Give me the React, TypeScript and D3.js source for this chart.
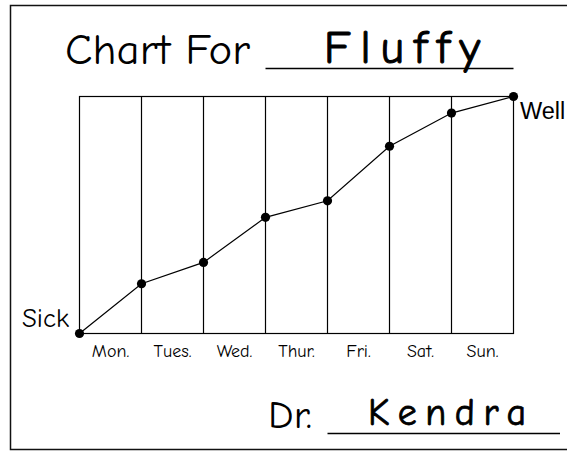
import React from "react";
import * as d3 from "d3";

// chart values
const days = ["Mon.", "Tues.", "Wed.", "Thur.", "Fri.", "Sat.", "Sun."];
// wellness at each day boundary, 0 = Sick, 100 = Well
const wellness = [0, 21, 30, 49, 56, 79, 93, 100];
const lowLabel = "Sick";
const highLabel = "Well";
const petName = "Fluffy";
const doctorName = "Kendra";

const width = 567;
const height = 451;
const plot = { left: 79.5, right: 513.5, top: 96.5, bottom: 333.5 };
const hand = "'Comic Sans MS', 'Comic Neue', 'Open Sans', sans-serif";

function App() {
  const x = d3.scaleLinear().domain([0, days.length]).range([plot.left, plot.right]);
  const band = d3.scaleBand().domain(days).range([plot.left, plot.right]).padding(0);
  const y = d3.scaleLinear().domain([0, 100]).range([plot.bottom, plot.top]);

  const line = d3
    .line<number>()
    .x((d, i) => x(i))
    .y((d) => y(d));

  return (
    <div style={{ position: "fixed", left: 0, top: 0, background: "#fff" }}>
      <svg width={width} height={height} style={{ display: "block" }}>
        <rect x={0} y={0} width={width} height={height} fill="#fff" />
        {/* page border, runs off the right edge */}
        <path d={`M${width + 5},5.5 H10.5 V449.5 H${width + 5}`} fill="none" stroke="#111" strokeWidth={1.5} />

        {/* title */}
        <text x={65} y={64} fontFamily={hand} fontSize={42} textLength={185} lengthAdjust="spacingAndGlyphs" fill="#000">
          Chart For
        </text>
        <line x1={265.5} x2={513.5} y1={68.5} y2={68.5} stroke="#000" strokeWidth={1.5} />
        <text
          x={324}
          y={62.5}
          fontFamily={hand}
          fontSize={46}
          stroke="#000"
          strokeWidth={1}
          textLength={156}
          lengthAdjust="spacing"
          fill="#000"
        >
          {petName}
        </text>

        {/* grid */}
        <rect
          x={plot.left}
          y={plot.top}
          width={plot.right - plot.left}
          height={plot.bottom - plot.top}
          fill="none"
          stroke="#000"
          strokeWidth={1.2}
        />
        {d3.range(1, days.length).map((i) => (
          <line key={i} x1={x(i)} x2={x(i)} y1={plot.top} y2={plot.bottom} stroke="#000" strokeWidth={1.2} />
        ))}

        {/* day labels */}
        {days.map((d) => (
          <text
            key={d}
            x={band(d)! + band.bandwidth() / 2}
            y={357}
            textAnchor="middle"
            fontFamily={hand}
            fontSize={18}
            fill="#000"
          >
            {d}
          </text>
        ))}

        {/* wellness line */}
        <path d={line(wellness) || ""} fill="none" stroke="#000" strokeWidth={1.2} />
        {wellness.map((v, i) => (
          <circle key={i} cx={x(i)} cy={y(v)} r={4.6} fill="#000" />
        ))}

        <text x={69} y={327} textAnchor="end" fontFamily={hand} fontSize={26} textLength={47} lengthAdjust="spacingAndGlyphs" fill="#000">
          {lowLabel}
        </text>
        <text x={520} y={119} fontFamily="'Liberation Sans', Arial, sans-serif" fontSize={23.5} fill="#000">
          {highLabel}
        </text>

        {/* signature */}
        <text x={268} y={428} fontFamily={hand} fontSize={39} textLength={44} lengthAdjust="spacingAndGlyphs" fill="#000">
          Dr.
        </text>
        <line x1={327.5} x2={560} y1={433.5} y2={433.5} stroke="#000" strokeWidth={1.5} />
        <text
          x={368}
          y={425}
          fontFamily={hand}
          fontSize={38}
          stroke="#000"
          strokeWidth={0.8}
          textLength={158}
          lengthAdjust="spacing"
          fill="#000"
        >
          {doctorName}
        </text>
      </svg>
    </div>
  );
}

export default App;
